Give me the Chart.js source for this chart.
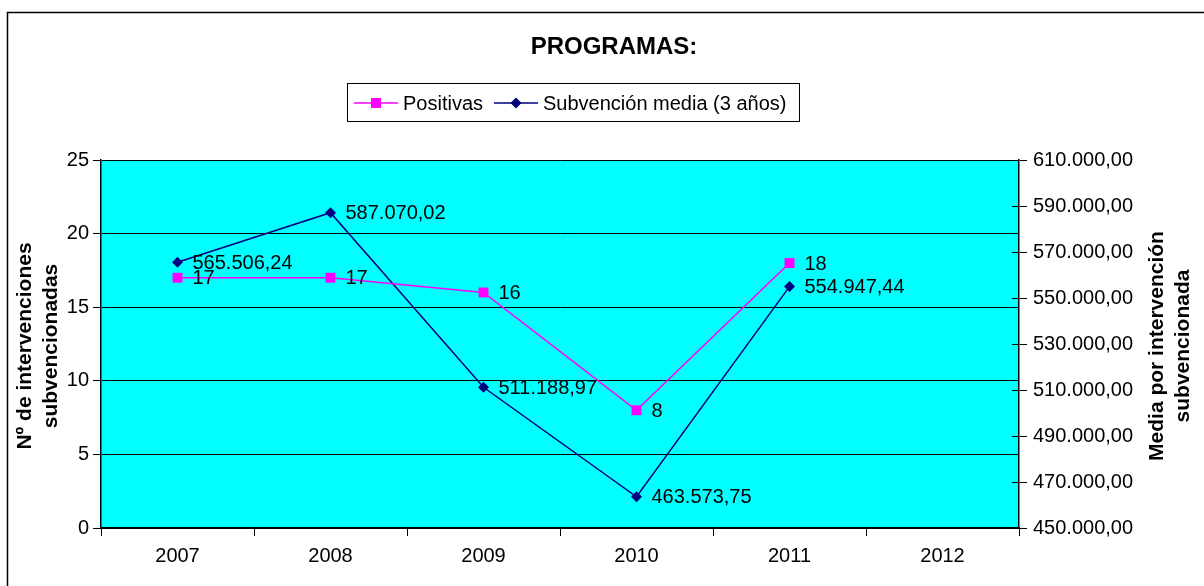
<!DOCTYPE html>
<html>
<head>
<meta charset="utf-8">
<script src="https://cdn.jsdelivr.net/npm/chart.js@4/dist/chart.umd.min.js"></script>
<style>
html,body{margin:0;padding:0;background:#fff;}
canvas{display:block;}
</style>
</head>
<body>
<canvas id="c" width="1204" height="586"></canvas>
<script>
const categories = ['2007', '2008', '2009', '2010', '2011', '2012'];
const positivas = [17, 17, 16, 8, 18, null];
const subvencionMedia = [565506.24, 587070.02, 511188.97, 463573.75, 554947.44, null];
const chartTitle = 'PROGRAMAS:';
const seriesNames = ['Positivas', 'Subvención media (3 años)'];
const leftAxisTitle = ['Nº de intervenciones', 'subvencionadas'];
const rightAxisTitle = ['Media por intervención', 'subvencionada'];
const leftTicks = { min: 0, max: 25, step: 5 };
const rightTicks = { min: 450000, max: 610000, step: 20000 };

const FONT = '"Liberation Sans", Arial, sans-serif';
const PINK = '#FF00FF';
const NAVY = '#000080';

function fmtEs(v, dec) {
  const parts = v.toFixed(dec).split('.');
  const intPart = parts[0].replace(/\B(?=(\d{3})+(?!\d))/g, '.');
  return dec > 0 ? intPart + ',' + parts[1] : intPart;
}

const decorPlugin = {
  id: 'decor',
  beforeDraw(chart) {
    const ctx = chart.ctx;
    const a = chart.chartArea;
    ctx.save();
    ctx.fillStyle = '#fff';
    ctx.fillRect(0, 0, chart.width, chart.height);
    ctx.fillStyle = '#00FFFF';
    ctx.fillRect(a.left, a.top, a.right - a.left, a.bottom - a.top);
    ctx.strokeStyle = '#000';
    ctx.lineWidth = 1.5;
    ctx.strokeRect(7.5, 12.5, chart.width + 20, chart.height + 20);
    ctx.restore();
  },
  afterDraw(chart) {
    const ctx = chart.ctx;
    const a = chart.chartArea;
    ctx.save();
    const y1 = chart.scales.y1;
    ctx.strokeStyle = '#000';
    ctx.lineWidth = 1;
    y1.ticks.forEach(t => {
      const y = Math.round(y1.getPixelForValue(t.value)) + 0.5;
      ctx.beginPath();
      ctx.moveTo(a.right - 7, y);
      ctx.lineTo(a.right, y);
      ctx.stroke();
    });
    ctx.fillStyle = '#000';
    ctx.font = 'bold 24px ' + FONT;
    ctx.textAlign = 'center';
    ctx.textBaseline = 'middle';
    ctx.fillText(chartTitle, 614, 47);
    ctx.fillStyle = '#fff';
    ctx.fillRect(347.5, 83.5, 452, 38);
    ctx.strokeStyle = '#000';
    ctx.lineWidth = 1;
    ctx.strokeRect(347.5, 83.5, 452, 38);
    const ly = 103;
    ctx.strokeStyle = PINK;
    ctx.lineWidth = 1.5;
    ctx.beginPath(); ctx.moveTo(354, ly); ctx.lineTo(398, ly); ctx.stroke();
    ctx.fillStyle = PINK;
    ctx.fillRect(371, ly - 5, 10, 10);
    ctx.strokeStyle = NAVY;
    ctx.beginPath(); ctx.moveTo(494, ly); ctx.lineTo(538, ly); ctx.stroke();
    ctx.fillStyle = NAVY;
    ctx.beginPath();
    ctx.moveTo(516, ly - 5.5); ctx.lineTo(521.5, ly); ctx.lineTo(516, ly + 5.5); ctx.lineTo(510.5, ly);
    ctx.closePath(); ctx.fill();
    ctx.fillStyle = '#000';
    ctx.font = '20px ' + FONT;
    ctx.textAlign = 'left';
    ctx.fillText(seriesNames[0], 403, ly + 1);
    ctx.fillText(seriesNames[1], 543, ly + 1);
    const cy = (a.top + a.bottom) / 2;
    ctx.font = 'bold 21px ' + FONT;
    ctx.textAlign = 'center';
    ctx.save();
    ctx.translate(25, cy + 2);
    ctx.rotate(-Math.PI / 2);
    ctx.fillText(leftAxisTitle[0], 0, 0);
    ctx.fillText(leftAxisTitle[1], 0, 26);
    ctx.restore();
    ctx.save();
    ctx.translate(1157, cy + 2);
    ctx.rotate(-Math.PI / 2);
    ctx.fillText(rightAxisTitle[0], 0, 0);
    ctx.fillText(rightAxisTitle[1], 0, 26);
    ctx.restore();
    ctx.restore();
  },
  afterDatasetsDraw(chart) {
    const ctx = chart.ctx;
    ctx.save();
    ctx.fillStyle = '#000';
    ctx.font = '20px ' + FONT;
    ctx.textAlign = 'left';
    ctx.textBaseline = 'middle';
    chart.data.datasets.forEach((ds, di) => {
      const meta = chart.getDatasetMeta(di);
      meta.data.forEach((pt, i) => {
        const v = ds.data[i];
        if (v === null || v === undefined) return;
        const txt = di === 0 ? fmtEs(v, 0) : fmtEs(v, 2);
        ctx.fillText(txt, pt.x + 15, pt.y + 1);
      });
    });
    ctx.restore();
  }
};

new Chart(document.getElementById('c'), {
  type: 'line',
  data: {
    labels: categories,
    datasets: [
      {
        label: seriesNames[0],
        data: positivas,
        yAxisID: 'y',
        borderColor: PINK,
        backgroundColor: PINK,
        borderWidth: 1.5,
        pointStyle: 'rect',
        pointRadius: 7,
        pointHoverRadius: 7,
        pointBorderWidth: 0,
        tension: 0,
        spanGaps: false
      },
      {
        label: seriesNames[1],
        data: subvencionMedia,
        yAxisID: 'y1',
        borderColor: NAVY,
        backgroundColor: NAVY,
        borderWidth: 1.5,
        pointStyle: 'rectRot',
        pointRadius: 5.5,
        pointHoverRadius: 5.5,
        pointBorderWidth: 0,
        tension: 0,
        spanGaps: false
      }
    ]
  },
  options: {
    responsive: false,
    animation: false,
    devicePixelRatio: 1,
    layout: { padding: { top: 160, left: 7, right: 0, bottom: 0 } },
    plugins: {
      legend: { display: false },
      title: { display: false },
      tooltip: { enabled: false }
    },
    scales: {
      x: {
        offset: true,
        grid: { offset: true, drawOnChartArea: false, tickLength: 8, color: '#000', lineWidth: 1 },
        border: { color: '#000', width: 1.5 },
        ticks: { color: '#000', font: { family: FONT, size: 20 }, padding: 8, maxRotation: 0 },
        afterFit(s) { s.height = 58; }
      },
      y: {
        position: 'left',
        min: leftTicks.min,
        max: leftTicks.max,
        ticks: { stepSize: leftTicks.step, color: '#000', font: { family: FONT, size: 20 }, padding: 4 },
        grid: { color: '#000', lineWidth: 1, tickLength: 8 },
        border: { color: '#000', width: 1.5 },
        afterFit(s) { s.width = 94; }
      },
      y1: {
        position: 'right',
        min: rightTicks.min,
        max: rightTicks.max,
        ticks: {
          stepSize: rightTicks.step,
          color: '#000',
          font: { family: FONT, size: 20 },
          padding: 6,
          callback: v => fmtEs(v, 2)
        },
        grid: { drawOnChartArea: false, color: '#000', lineWidth: 1, tickLength: 8 },
        border: { color: '#000', width: 1.5 },
        afterFit(s) { s.width = 185; }
      }
    }
  },
  plugins: [decorPlugin]
});
</script>
</body>
</html>
